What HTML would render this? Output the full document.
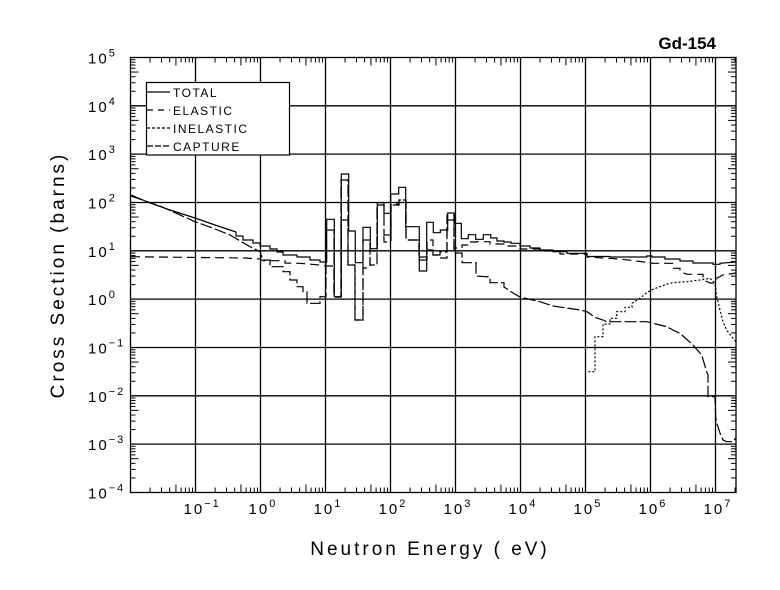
<!DOCTYPE html>
<html><head><meta charset="utf-8"><style>
html,body{margin:0;padding:0;background:#fff}
svg{display:block}
text{font-family:"Liberation Sans",sans-serif;fill:#000}
</style></head><body>
<svg id="s" width="780" height="590" viewBox="0 0 780 590" xmlns="http://www.w3.org/2000/svg">
<rect width="780" height="590" fill="#fff"/>
<g id="grid" stroke="#000" stroke-width="1.3" fill="none"></g>
<rect x="130.5" y="57.5" width="605.5" height="435" fill="none" stroke="#000" stroke-width="1.3"/>
<g fill="none" stroke="#000" stroke-width="1.2">
<!-- TOTAL -->
<polyline points="131,195 150,203 170,210 195,218 215,225 230,230 236,232 236,236 243,236 243,240 253,240 253,243 260,243 260,246 270,246 270,249 277,249 277,252 283,252 283,255 297,255 297,257 310,257 310,260 320,260 320,262 326.7,262 326.7,219.3 334.3,219.3 334.3,296.7 341.3,296.7 341.3,174 348.7,174 348.7,231 355.3,231 355.3,262.7 363,262.7 363,227.3 370.3,227.3 370.3,248.7 377.3,248.7 377.3,202.7 384,202.7 384,213.3 390.7,213.3 390.7,194 398.7,194 398.7,187.3 405.7,187.3 405.7,226.7 419.3,226.7 419.3,271 426.7,271 426.7,222.3 433.3,222.3 433.3,232.7 440.3,232.7 440.3,230 447.7,230 447.7,213 454.3,213 454.3,223.3 461.3,223.3 461.3,238.7 468.3,238.7 468.3,234.7 475.7,234.7 475.7,239.3 483.3,239.3 483.3,234.7 490.7,234.7 490.7,238 497,238 497,241 504,241 504,242 511,242 511,243.3 520,243.3 520,246 530,246 530,248 540,248 540,250 553,250 553,251.7 567,251.7 567,253.3 587,253.3 587,256.5 610,256.5 610,257 646.7,257 646.7,256 652,256 652,257 665,257 665,259 680,259 680,261 693,261 693,263 713,263 713,264.3 720,264.3 720,263.3 736,262"/>
<!-- ELASTIC -->
<polyline stroke-dasharray="9,5" points="131,256.7 200,257.5 245,258 260,259 263,260.7 285,260.7 285,263 300,263.3 320,265 326,266 334,266 334,297 341,297 341,220 348,220 348,265 355,265 355,320 363,320 363,268 370,268 370,251 377,251 377,237 384,237 384,242 391,242 391,204 399,204 399,200 406,200 406,240 419,240 419,257 427,257 427,240 433,240 433,255 440,255 440,258 447,258 447,215 454,215 454,248 462,248 462,245 468,245 468,242 476,242 476,241.7 490,241.7 490,244 505,244 505,246 520,246 520,249 540,249 540,251 560,251 560,254 587,254 587,257 620,259 646.7,262.3 653,263.3 673,263.3 673,268.3 680,268.3 680,271.7 687,274.3 703,274.3 703,280 710,283 715,283 717,278 723,275 736,273"/>
<!-- CAPTURE -->
<polyline stroke-dasharray="12,3" points="131,196 160,206 195,221.7 215,229 230,235 250,246.7 260,251.7 263,260 270,260 270,266.7 283,266.7 283,271.7 290,271.7 290,280 297,280 297,286.7 303,286.7 303,291.7 307,291.7 307,303.3 320,303.3 320,296.7 326,296.7 326,230 334,230 334,297 341,297 341,180 348,180 348,265 355,265 355,320 363,320 363,240 370,240 370,265 377,265 377,205 384,205 384,235 391,235 391,205 399,205 399,200 406,200 406,240 419,240 419,260 427,260 427,250 433,250 433,255 440,255 440,252 447,252 447,220 454,220 454,253 462,253 462,262.7 476,262.7 476,276 490,277 490,282.7 504,282.7 504,287 513,293 520,297 540,301.7 553,306 580,310 587,311.7 595,317.3 603,320 606.7,321.7 646.7,321.7 653,323.3 666.7,326.7 673,330 680,333.3 693,345 701.7,355 706.7,371.7 708,375 708,396.7 715,396.7 715.7,416.7 716.7,423 720,433 723,440 726.7,441.7 733,441.7 735.7,438"/>
<!-- INELASTIC -->
<polyline stroke-dasharray="2,2" points="588.3,371.7 595,371.7 595,336.7 603,336.7 603,324 610,324 610,318.3 616.7,318.3 616.7,311.7 625,311.7 625,307.3 632,307.3 632,303.3 640,298.3 646.7,292.7 653,289.3 660,286.7 666.7,284.3 673,282.7 686.7,281.7 700,280 710,278.3 715,283.3 716.7,296.7 720,310 723,321.7 726.7,330 731.7,336.7 736,341.7"/>
</g>
<!-- legend -->
<rect x="146.5" y="82.5" width="143" height="72.5" fill="#fff" stroke="#000" stroke-width="1.2"/>
<g stroke="#000" stroke-width="1.2" fill="none">
<line x1="147" y1="92" x2="170" y2="92"/>
<line x1="147" y1="110" x2="170" y2="110" stroke-dasharray="6,5"/>
<line x1="147" y1="128" x2="170" y2="128" stroke-dasharray="3,2"/>
<line x1="147" y1="146" x2="170" y2="146" stroke-dasharray="6,2"/>
</g>
<g font-size="12" letter-spacing="1.5">
<text x="173" y="97">TOTAL</text>
<text x="173" y="115">ELASTIC</text>
<text x="173" y="133">INELASTIC</text>
<text x="173" y="151">CAPTURE</text>
</g>
<text x="716" y="49" font-size="17" font-weight="bold" text-anchor="end">Gd-154</text>
<g id="labels" font-size="15"></g>
<text x="430" y="555" font-size="19" text-anchor="middle" letter-spacing="3">Neutron Energy ( eV)</text>
<text transform="translate(64,275) rotate(-90)" font-size="19" text-anchor="middle" letter-spacing="3">Cross Section (barns)</text>
</svg>
<script>
var NS="http://www.w3.org/2000/svg";
var g=document.getElementById('grid'),L=document.getElementById('labels');
function ln(x1,y1,x2,y2,w){var l=document.createElementNS(NS,'line');l.setAttribute('x1',x1);l.setAttribute('y1',y1);l.setAttribute('x2',x2);l.setAttribute('y2',y2);if(w)l.setAttribute('stroke-width',w);g.appendChild(l);}
function X(d){return 130.5+65*(d+2);}
function Y(d){return 57.5+48.33*(5-d);}
function lab(x,y,e,anchor){var t=document.createElementNS(NS,'text');t.setAttribute('x',x);t.setAttribute('y',y);t.setAttribute('text-anchor',anchor);t.setAttribute('letter-spacing','2');
t.appendChild(document.createTextNode('10'));var s=document.createElementNS(NS,'tspan');s.setAttribute('dy','-7');s.setAttribute('font-size','11');s.textContent=String(e).replace('-','\u2212');t.appendChild(s);L.appendChild(t);}
for(var d=-2;d<=7;d++){
 if(d>-2){var x=X(d);ln(x,57.5,x,492.5);}
 for(var m=2;m<=9;m++){var xm=X(d+Math.log10(m));if(xm>736)break;var len=(m==5)?8:5;ln(xm,492.5,xm,492.5-len,1);ln(xm,57.5,xm,57.5+len,1);}
}
for(var d=-4;d<=5;d++){
 var y=Y(d);if(d>-4&&d<5)ln(130.5,y,736,y);
 if(d<5)for(var m=2;m<=9;m++){var ym=Y(d+Math.log10(m));var len=(m==5)?8:5;ln(130.5,ym,130.5+len,ym,1);ln(736,ym,736-len,ym,1);}
 lab(88,y+6,d,'start');
}
for(var d=-1;d<=7;d++){lab(X(d)-12,514,d,'start');}
</script>
</body></html>
